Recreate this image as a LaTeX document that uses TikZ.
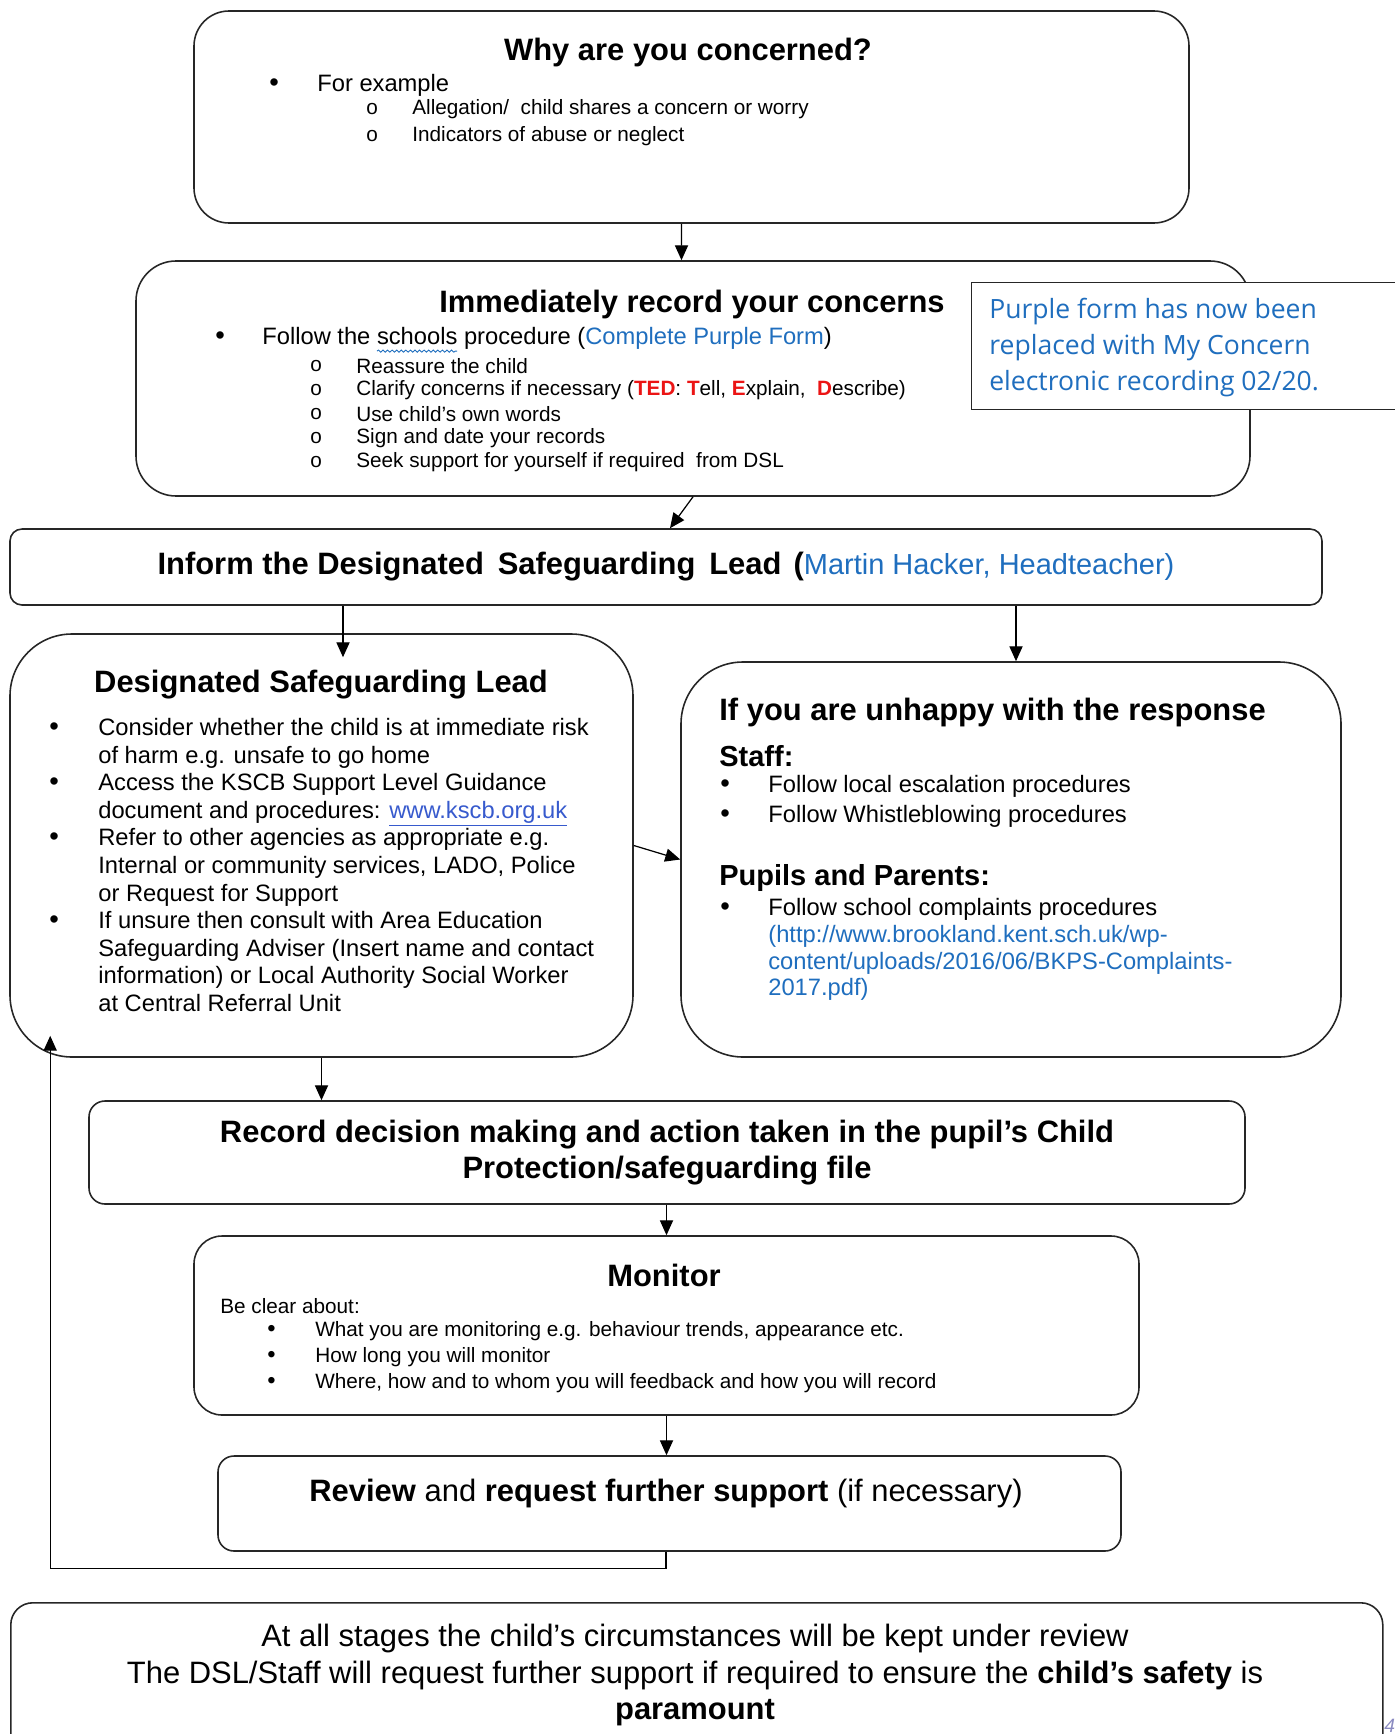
\documentclass[tikz,border=0pt]{standalone}
\usepackage{fontspec}
\setmainfont{Liberation Sans}
\newfontfamily\notefont{Open Sans}
\usetikzlibrary{arrows.meta,calc,positioning,decorations.pathmorphing}
\definecolor{linkblue}{RGB}{31,110,190}
\definecolor{urlblue}{RGB}{55,90,205}
\definecolor{tedred}{RGB}{235,20,20}
\tikzset{
    flow-box/.style = {draw=black!85, line width=0.9pt, rectangle, inner sep=0pt},
    box-size/.style 2 args = {minimum width=#1*0.02cm, minimum height=#2*0.02cm},
    box-round/.style = {rounded corners=#1*0.02cm},
    title-font/.style = {font=\bfseries\fontsize{17.6}{20.5}\selectfont},
    box-title/.style = {title-font, inner sep=0pt, yshift=-1.8pt},
    item-text/.style = {font=\fontsize{13.5}{15.7}\selectfont, anchor=west, inner sep=0pt, yshift=-1.2pt},
    small-text/.style = {font=\fontsize{11.8}{13.7}\selectfont, anchor=west, inner sep=0pt, yshift=-1pt},
    list-dot/.style = {font=\fontsize{15.5}{17}\selectfont, anchor=west, inner sep=0pt, yshift=-1.2pt},
    flow-arrow/.style = {-{Triangle[length=8.5pt,width=7.5pt]}, line width=0.7pt},
}

\begin{document}
\begin{tikzpicture}[x=0.02cm, y=-0.02cm]
\useasboundingbox (0,0) rectangle (1395,1734);

% the boxes
\node[flow-box, box-size={995}{212}, box-round=35] (why) at (691.5,117) {};
\node[flow-box, box-size={1114}{235}, box-round=40] (immediate) at (693,378.5) {};
\node[flow-box, fill=white, line width=0.6pt, box-size={440}{127}, anchor=north west] (purple) at (971,282) {};
\node[flow-box, box-size={1312}{76}, box-round=12, font=\fontsize{17.6}{20.5}\selectfont] (inform) at (666,567)
    {\textbf{Inform the Designated\hspace{3pt} Safeguarding\hspace{3pt} Lead\hspace{2pt} (}{\fontsize{16.5}{19}\selectfont\textcolor{linkblue}{Martin Hacker, Headteacher)}}};
\node[flow-box, box-size={623}{423}, box-round=62] (dsl) at (321.5,845.5) {};
\node[flow-box, box-size={660}{395}, box-round=62] (unhappy) at (1011,859.5) {};
\node[flow-box, title-font, box-size={1156}{103}, box-round=16, align=center] (decision) at (667,1152.5)
    {\raisebox{-2pt}{Record decision making and action taken in the pupil’s Child}\\\raisebox{-2pt}{Protection/safeguarding file}};
\node[flow-box, box-size={945}{179}, box-round=28] (monitor) at (666.5,1325.5) {};
\node[flow-box, box-size={903}{95}, box-round=16] (review) at (669.5,1503.5) {};
\node[flow-box, box-size={1372}{170}, box-round=22, anchor=north west] (stages) at (10,1602) {};

% why are you concerned
\node[box-title] (why-title) at (688,49) {Why are you concerned?};
\node[list-dot] (why-dot) at (269,83) {•};
\node[item-text] (why-item) at (317,83) {For example};
\foreach \txt [count=\i] in {{Allegation/\ \ child shares a concern or worry}, {Indicators of abuse or neglect}}{
    \node[small-text] (why-o\i) at (366,107+27*\i-27) {o};
    \node[small-text] (why-sub\i) at (412,107+27*\i-27) {\txt};
}

% immediately record
\node[box-title] (imm-title) at (692,301) {Immediately record your concerns};
\node[list-dot] (imm-dot) at (215,336) {•};
\node[item-text] (imm-item) at (262,336) {Follow the schools procedure (\textcolor{linkblue}{Complete Purple Form})};
\draw[linkblue, line width=0.5pt, decorate, decoration={snake, amplitude=0.6pt, segment length=2.6pt}]
    ($(imm-item.west)+(115,13)$) -- ++(80,0);
\foreach \txt [count=\i] in {{Reassure the child},
    {Clarify concerns if necessary (\textcolor{tedred}{\textbf{TED}}: \textcolor{tedred}{\textbf{T}}ell, \textcolor{tedred}{\textbf{E}}xplain,\ \ \textcolor{tedred}{\textbf{D}}escribe)},
    {Use child’s own words}, {Sign and date your records}, {Seek support for yourself if required\ \ from DSL}}{
    \node[small-text] (imm-o\i) at (310,364+24*\i-24) {o};
    \node[small-text] (imm-sub\i) at (356,364+24*\i-24) {\txt};
}
\node[anchor=north west, align=left, inner sep=0pt, text=linkblue, font=\notefont\fontsize{15.1}{20.5}\selectfont] (purple-text) at (989,298)
    {Purple form has now been\\replaced with My Concern\\electronic recording 02/20.};

% designated safeguarding lead
\node[box-title] (dsl-title) at (321,681) {Designated Safeguarding Lead};
\node[item-text, anchor=north west, align=left] (dsl-list) at (98,716)
    {Consider whether the child is at immediate risk\\
     of harm e.g. unsafe to go home\\
     Access the KSCB Support Level Guidance\\
     document and procedures: \textcolor{urlblue}{\underline{www.kscb.org.uk}}\\
     Refer to other agencies as appropriate e.g.\\
     Internal or community services, LADO, Police\\
     or Request for Support\\
     If unsure then consult with Area Education\\
     Safeguarding Adviser (Insert name and contact\\
     information) or Local Authority Social Worker\\
     at Central Referral Unit};
\foreach \k in {0,2,4,7}
    \node[list-dot] (dsl-dot\k) at (49,727+27.6*\k) {•};

% if you are unhappy
\node[box-title, anchor=west] (unhappy-title) at (719,709) {If you are unhappy with the response};
\node[anchor=west, inner sep=0pt, yshift=-1.5pt, font=\bfseries\fontsize{16.5}{19}\selectfont] (staff) at (719,753) {Staff:};
\foreach \txt [count=\i] in {{Follow local escalation procedures}, {Follow Whistleblowing procedures}}{
    \node[list-dot] (staff-dot\i) at (720,784+30*\i-30) {•};
    \node[item-text] (staff-item\i) at (768,784+30*\i-30) {\txt};
}
\node[anchor=west, inner sep=0pt, yshift=-1.5pt, font=\bfseries\fontsize{16.5}{19}\selectfont] (pupils) at (719,875) {Pupils and Parents:};
\node[list-dot] (pupils-dot) at (720,907) {•};
\node[item-text, anchor=north west, align=left, font=\fontsize{13.5}{15.2}\selectfont] (pupils-item) at (768,896)
    {Follow school complaints procedures\\
     \textcolor{linkblue}{(http://www.brookland.kent.sch.uk/wp-}\\
     \textcolor{linkblue}{content/uploads/2016/06/BKPS-Complaints-}\\
     \textcolor{linkblue}{2017.pdf)}};

% monitor
\node[box-title] (monitor-title) at (664,1272) {Monitor};
\node[small-text] (monitor-lead) at (220,1304) {Be clear about:};
\foreach \txt [count=\i] in {{What you are monitoring e.g. behaviour trends, appearance etc.},
    {How long you will monitor}, {Where, how and to whom you will feedback and how you will record}}{
    \node[list-dot, font=\fontsize{13.5}{15}\selectfont] (monitor-dot\i) at (267,1329+26*\i-26) {•};
    \node[small-text] (monitor-item\i) at (315,1329+26*\i-26) {\txt};
}

% review and final note
\node[inner sep=0pt, yshift=-1.8pt, font=\fontsize{17.6}{20.5}\selectfont] (review-text) at (666,1490)
    {\textbf{Review} and \textbf{request further support} (if necessary)};
\node[inner sep=0pt, yshift=-1.8pt, align=center, font=\fontsize{17.6}{20.8}\selectfont] (stages-text) at (695,1672)
    {At all stages the child’s circumstances will be kept under review\\
     The DSL/Staff will request further support if required to ensure the \textbf{child’s safety} is\\
     \textbf{paramount}};
\node[anchor=west, inner sep=0pt, text=blue!30!gray!70, font=\itshape\fontsize{11}{13}\selectfont] (page-num) at (1384,1726) {4};

% connectors
\draw[flow-arrow] ($(why.south)+(-10,0)$) -- ($(immediate.north)+(-11.5,0)$);
\draw[flow-arrow] (immediate.south) -- ($(inform.north)+(4,0)$);
\draw[flow-arrow] ($(inform.south -| dsl.north)+(21.5,0)$) -- ($(dsl.north)+(21.5,24)$);
\draw[flow-arrow] ($(inform.south -| unhappy.north)+(5,0)$) -- ($(unhappy.north)+(5,0)$);
\draw[flow-arrow] (dsl.east) -- (unhappy.west);
\draw[flow-arrow] (dsl.south) -- (dsl.south |- decision.north);
\draw[flow-arrow] (decision.south -| monitor.north) -- (monitor.north);
\draw[flow-arrow] (monitor.south) -- (monitor.south |- review.north);
\draw[flow-arrow] ($(review.south)+(-3.5,0)$) -- ++(0,17) -| ($(dsl.south west)+(41,-22)$);
\end{tikzpicture}
\end{document}
